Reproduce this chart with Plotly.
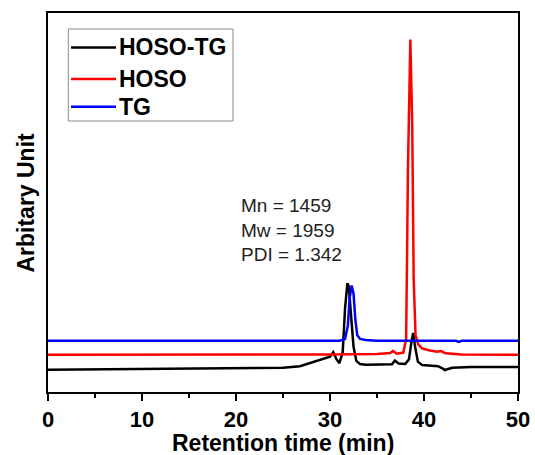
import plotly.graph_objects as go

# Retention time (min) and detector response (arbitrary units)
tg_x = [0, 10, 20, 30, 31.0, 31.6, 31.9, 32.1, 32.3, 32.5, 32.7, 32.9, 33.2, 33.8, 35, 40, 43.4, 43.7, 44.0, 50]
tg_y = [13.5, 13.5, 13.6, 13.5, 13.5, 14.0, 17.5, 25.0, 28.1, 26.0, 19.0, 15.0, 14.0, 13.7, 13.5, 13.5, 13.5, 13.2, 13.5, 13.5]

hoso_x = [0, 10, 20, 30, 35, 36.4, 36.7, 37.1, 37.8, 38.1, 38.3, 38.55, 38.75, 38.9, 39.1, 39.4, 39.8, 40.5, 41.4, 41.8, 42.3, 44, 50]
hoso_y = [9.8, 9.8, 9.8, 9.9, 10.0, 10.3, 10.8, 10.1, 10.4, 14.0, 60.0, 93.0, 70.0, 30.0, 15.0, 12.5, 11.5, 11.0, 10.6, 10.8, 10.2, 9.9, 9.8]

hosotg_x = [0, 10, 20, 25, 26.8, 28.6, 29.65, 30.0, 30.35, 30.7, 31.0, 31.35, 31.6, 31.85, 32.0, 32.2, 32.5, 32.8, 33.2, 33.8, 35, 36.6, 36.9, 37.3, 38.0, 38.4, 38.65, 38.85, 39.05, 39.35, 39.8, 40.5, 41.5, 42.0, 42.2, 43, 45, 50]
hosotg_y = [5.9, 6.1, 6.3, 6.4, 6.8, 8.2, 8.9, 9.3, 10.5, 8.6, 7.6, 10.5, 22.0, 28.7, 27.8, 21.0, 12.0, 8.2, 7.4, 7.2, 7.2, 7.3, 8.3, 7.5, 7.4, 8.6, 13.0, 15.6, 12.0, 8.0, 7.1, 7.0, 6.8, 6.2, 5.8, 6.4, 6.6, 6.6]

series_names = ["HOSO-TG", "HOSO", "TG"]
series_colors = ["#000000", "#ff0000", "#0000ff"]
x_ticks = [0, 10, 20, 30, 40, 50]
annot_text = ["Mn = 1459", "Mw = 1959", "PDI = 1.342"]
x_title = "Retention time (min)"
y_title = "Arbitary Unit"

FONT = "Arial, Liberation Sans, sans-serif"

fig = go.Figure()
for xs, ys, name, color in zip([hosotg_x, hoso_x, tg_x], [hosotg_y, hoso_y, tg_y],
                               series_names, series_colors):
    fig.add_trace(go.Scatter(x=xs, y=ys, mode="lines", name=name, showlegend=False,
                             line=dict(color=color, width=2.5)))

# Annotation with molecular-weight results
fig.add_annotation(x=20.3, y=42.7, xref="x", yref="y", xanchor="left", yanchor="middle",
                   text="<br>".join(annot_text), showarrow=False, align="left",
                   font=dict(family=FONT, size=19, color="#222222"))

# Hand-drawn legend (box, sample lines, labels) in paper coordinates
leg_x0, leg_x1, leg_y0, leg_y1 = 0.0432, 0.3936, 0.715, 0.9578
row_y = [0.909, 0.8258, 0.7529]
fig.add_shape(type="rect", xref="paper", yref="paper", x0=leg_x0, x1=leg_x1, y0=leg_y0, y1=leg_y1,
              line=dict(color="#8a8a8a", width=1), fillcolor="white", layer="above")
for name, color, ry in zip(series_names, series_colors, row_y):
    fig.add_shape(type="line", xref="paper", yref="paper", x0=0.049, x1=0.1447, y0=ry, y1=ry,
                  line=dict(color=color, width=2.5), layer="above")
    fig.add_annotation(x=0.147, y=ry, xref="paper", yref="paper", xanchor="left", yanchor="middle",
                       text=name, showarrow=False,
                       font=dict(family=FONT, size=23, color="black", weight="bold"))

# Axis titles
fig.add_annotation(x=0.5, y=-0.1346, xref="paper", yref="paper", xanchor="center", yanchor="middle",
                   text=x_title, showarrow=False,
                   font=dict(family=FONT, size=23, color="black", weight="bold"))
fig.add_annotation(x=-0.0477, y=0.4987, xref="paper", yref="paper", xanchor="center", yanchor="middle",
                   text=y_title, showarrow=False, textangle=-90,
                   font=dict(family=FONT, size=23, color="black", weight="bold"))

fig.update_layout(
    width=535, height=455,
    margin=dict(l=48, r=17, t=13, b=63),
    paper_bgcolor="white", plot_bgcolor="white",
    font=dict(family=FONT, color="black"),
    showlegend=False,
    xaxis=dict(range=[0, 50], tickvals=x_ticks, ticks="outside", ticklen=7, tickwidth=2,
               tickcolor="black", showline=True, linewidth=2, linecolor="black",
               mirror=True, showgrid=False, zeroline=False, automargin=False,
               minor=dict(dtick=5, ticks="outside", ticklen=4, tickwidth=2, tickcolor="black", showgrid=False),
               tickfont=dict(family=FONT, size=22, color="black", weight="bold")),
    yaxis=dict(range=[0, 100], showticklabels=False, ticks="", showline=True, linewidth=2,
               linecolor="black", mirror=True, showgrid=False, zeroline=False, automargin=False),
)

fig.write_html("out.html")
